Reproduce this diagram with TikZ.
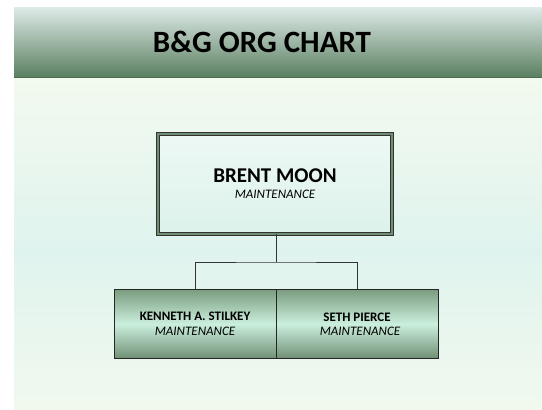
\documentclass[tikz,border=0pt]{standalone}
\usepackage{fontspec}
\setmainfont{Carlito}
\usetikzlibrary{positioning}
\definecolor{hdrtop}{HTML}{DEEBE8}
\definecolor{hdrbot}{HTML}{5B7F61}
\definecolor{pagetop}{HTML}{F3FAEF}
\definecolor{pagemid}{HTML}{DFF3EE}
\definecolor{pagebot}{HTML}{F1F9EE}
\definecolor{bossband}{HTML}{6E8F73}
\definecolor{bosstop}{HTML}{EDF8F3}
\definecolor{bossbot}{HTML}{DDF2EC}
\definecolor{staffdark}{HTML}{7A9C7F}
\definecolor{stafflight}{HTML}{CBEFDD}
\tikzset{bossbox/.style={draw=black!80, line width=0.8pt, double=bossband, double distance=2pt,
           top color=bosstop, bottom color=bossbot, minimum width=234pt, minimum height=100pt, align=center},
         staffbox/.style={draw=black!85, line width=1pt, top color=staffdark, bottom color=staffdark!92!black,
           middle color=stafflight, minimum width=162pt, minimum height=69pt, align=center},
         link/.style={draw=black!80, line width=1pt}
}
\begin{document}
\begin{tikzpicture}[x=1pt,y=-1pt]
  \useasboundingbox (0,0) rectangle (542,410);
  % page and header
  \fill[white] (0,0) rectangle (542,410);
  \shade[top color=pagetop, bottom color=pagemid] (14,78) rectangle (542,250);
  \shade[top color=pagemid, bottom color=pagebot] (14,250) rectangle (542,409);
  \shade[top color=hdrtop, bottom color=hdrbot] (14,7) rectangle (542,77);
  \fill[hdrbot!85!black] (14,77) rectangle (542,78);
  \node (title) at (262,42) {\fontsize{31}{32}\selectfont\bfseries B\&G ORG CHART};
  % boxes
  \node[bossbox] (brent) at (275,184)
    {{\fontsize{21}{21}\selectfont\bfseries BRENT MOON}\\[4pt]{\fontsize{13}{13}\selectfont\itshape MAINTENANCE}};
  \node[staffbox] (kenneth) at (195,324)
    {{\fontsize{13}{13}\selectfont\bfseries KENNETH A. STILKEY}\\[3pt]{\fontsize{13}{13}\selectfont\itshape MAINTENANCE}};
  \node[staffbox, right=-1pt of kenneth] (seth)
    {{\fontsize{13}{13}\selectfont\bfseries SETH PIERCE}\\[2pt]\hspace*{6pt}{\fontsize{13}{13}\selectfont\itshape MAINTENANCE}};
  % connectors
  \coordinate (bus) at (276,262);
  \draw[link] (brent.south -| bus) -- (bus);
  \draw[link] (kenneth.north) |- (bus) -| (seth.north);
\end{tikzpicture}
\end{document}
